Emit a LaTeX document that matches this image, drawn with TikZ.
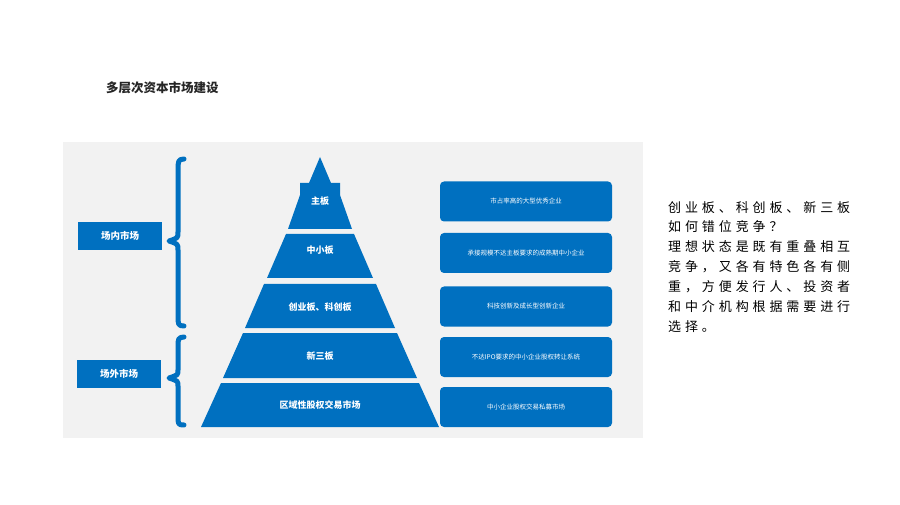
\documentclass[tikz,border=0pt]{standalone}
\usepackage{fontspec}
\setmainfont{Noto Sans CJK SC}
\newfontfamily\cjkw[LetterSpace=30]{Noto Sans CJK SC}
\begin{document}
\begin{tikzpicture}[x=1pt,y=-1pt]
\definecolor{blu}{HTML}{0070C0}
\definecolor{pan}{HTML}{F2F2F2}
\tikzset{layer/.style={fill=blu,draw=none},
lbl/.style={text=white,font=\bfseries\fontsize{9}{10}\selectfont},
rbox/.style={fill=blu,rounded corners=4pt,minimum width=172pt,minimum height=40pt,text=white,font=\fontsize{6.5}{8}\selectfont,inner sep=0pt},
sbox/.style={fill=blu,minimum width=84pt,minimum height=28pt,text=white,font=\bfseries\fontsize{9.5}{11}\selectfont,inner sep=0pt},
brace/.style={draw=blu,line width=5pt,line cap=round,line join=round},
txt/.style={anchor=west,font=\cjkw\fontsize{13}{15}\selectfont,inner sep=0pt}}
\useasboundingbox (0,0) rectangle (900,505);
\fill[white] (0,0) rectangle (900,505);
\node[anchor=west,inner sep=0pt,font=\bfseries\fontsize{12.5}{14}\selectfont,text=black!85] (title) at (106,88) {多层次资本市场建设};
\fill[pan] (63,142) rectangle (643,438);
% pyramid
\fill[layer] (320,157) -- (331,183) -- (340,183) -- (340,195) -- (352,229) -- (288,229) -- (300,195) -- (300,183) -- (309,183) -- cycle;
\fill[layer] (286,234) -- (354,234) -- (373,278) -- (267,278) -- cycle;
\fill[layer] (264,284) -- (376,284) -- (395,328) -- (245,328) -- cycle;
\fill[layer] (243,333) -- (397,333) -- (417,378) -- (223,378) -- cycle;
\fill[layer] (221,383) -- (419,383) -- (439,427) -- (201,427) -- cycle;
\node[lbl] (p1) at (320,201) {主板};
\node[lbl] (p2) at (320,250) {中小板};
\node[lbl] (p3) at (320,307) {创业板、科创板};
\node[lbl] (p4) at (320,356) {新三板};
\node[lbl] (p5) at (320,405) {区域性股权交易市场};
% right boxes
\node[rbox] (r1) at (526,201.5) {市占率高的大型优秀企业};
\node[rbox] (r2) at (526,253) {承接规模不达主板要求的成熟期中小企业};
\node[rbox] (r3) at (526,306.5) {科技创新及成长型创新企业};
\node[rbox] (r4) at (526,357) {不达IPO要求的中小企业股权转让系统};
\node[rbox] (r5) at (526,407) {中小企业股权交易私募市场};
% braces
\draw[brace] (184,159) .. controls (178,159) and (178,162) .. (178,170) -- (178,232) .. controls (178,238) .. (169,241) .. controls (178,244) .. (178,250) -- (178,316) .. controls (178,324) and (178,326) .. (184,326);
\draw[brace] (184,337) .. controls (178,337) and (178,340) .. (178,346) -- (178,370) .. controls (178,375) .. (169,378) .. controls (178,381) .. (178,386) -- (178,416) .. controls (178,424) and (178,425) .. (184,425);
\node[sbox] (s1) at (120,236) {场内市场};
\node[sbox] (s2) at (119,374) {场外市场};
% right text
\node[txt] (t1) at (668,208) {创业板、科创板、新三板};
\node[txt] (t2) at (668,227) {如何错位竞争？};
\node[txt] (t3) at (668,247) {理想状态是既有重叠相互};
\node[txt] (t4) at (668,267) {竞争，又各有特色各有侧};
\node[txt] (t5) at (668,287) {重，方便发行人、投资者};
\node[txt] (t6) at (668,307) {和中介机构根据需要进行};
\node[txt] (t7) at (668,327) {选择。};
\end{tikzpicture}
\end{document}
